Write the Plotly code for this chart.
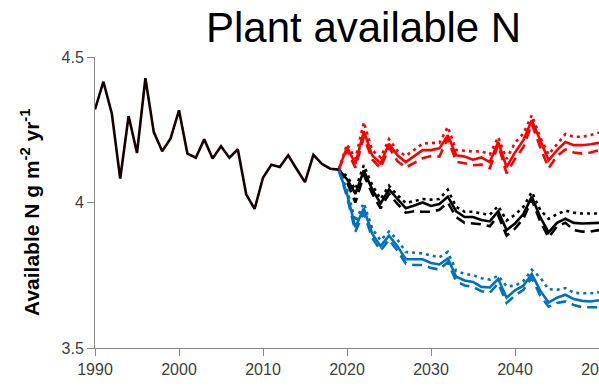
import plotly.graph_objects as go

hist_years = list(range(1990, 2020))
hist_vals = [4.32, 4.415, 4.306, 4.082, 4.297, 4.17, 4.427, 4.242, 4.176, 4.22,
             4.317, 4.168, 4.154, 4.217, 4.151, 4.193, 4.154, 4.183, 4.028, 3.978,
             4.085, 4.13, 4.122, 4.162, 4.115, 4.07, 4.164, 4.133, 4.116, 4.113]

scen_years = list(range(2019, 2051))

red_solid = [4.113, 4.19, 4.133, 4.245, 4.162, 4.135, 4.202, 4.162, 4.139, 4.16, 4.18, 4.18,
             4.186, 4.231, 4.162, 4.158, 4.147, 4.155, 4.139, 4.208, 4.122, 4.172,
             4.214, 4.283, 4.214, 4.145, 4.18, 4.208, 4.197, 4.197, 4.2, 4.205]
red_dot = [4.113, 4.2, 4.15, 4.276, 4.18, 4.155, 4.218, 4.178, 4.16, 4.18, 4.202, 4.205,
           4.205, 4.26, 4.18, 4.178, 4.175, 4.176, 4.165, 4.225, 4.15, 4.205,
           4.237, 4.30, 4.225, 4.165, 4.2, 4.235, 4.226, 4.226, 4.232, 4.24]
red_dash = [4.113, 4.18, 4.12, 4.225, 4.148, 4.118, 4.19, 4.142, 4.12, 4.135, 4.152, 4.16,
            4.158, 4.22, 4.14, 4.135, 4.128, 4.13, 4.118, 4.198, 4.10, 4.15,
            4.19, 4.27, 4.19, 4.118, 4.16, 4.182, 4.172, 4.168, 4.172, 4.18]

black_solid = [4.113, 4.08, 4.03, 4.11, 4.045, 3.997, 4.045, 4.012, 3.98, 3.99, 4.0, 3.988,
               3.995, 4.02, 3.97, 3.95, 3.95, 3.94, 3.935, 3.97, 3.905, 3.928,
               3.96, 4.02, 3.95, 3.897, 3.93, 3.944, 3.93, 3.928, 3.928, 3.93]
black_dot = [4.113, 4.09, 4.045, 4.128, 4.06, 4.012, 4.058, 4.025, 3.998, 4.005, 4.012, 4.01,
             4.012, 4.044, 3.985, 3.968, 3.968, 3.962, 3.958, 3.988, 3.938, 3.958,
             3.985, 4.036, 3.975, 3.944, 3.96, 3.972, 3.965, 3.962, 3.962, 3.962]
black_dash = [4.113, 4.07, 4.0, 4.095, 4.03, 3.98, 4.03, 3.995, 3.965, 3.97, 3.968, 3.968,
              3.975, 4.0, 3.95, 3.93, 3.928, 3.925, 3.918, 3.955, 3.886, 3.91,
              3.945, 4.01, 3.935, 3.88, 3.918, 3.93, 3.905, 3.9, 3.9, 3.905]

blue_solid = [4.113, 4.03, 3.915, 3.98, 3.893, 3.85, 3.886, 3.85, 3.805, 3.805, 3.805, 3.792,
              3.787, 3.808, 3.745, 3.732, 3.727, 3.71, 3.708, 3.737, 3.673, 3.698,
              3.714, 3.754, 3.697, 3.656, 3.673, 3.683, 3.668, 3.662, 3.66, 3.664]
blue_dot = [4.113, 4.045, 3.935, 3.998, 3.91, 3.87, 3.9, 3.872, 3.83, 3.828, 3.825, 3.818,
            3.812, 3.83, 3.765, 3.755, 3.75, 3.74, 3.735, 3.748, 3.712, 3.714,
            3.73, 3.769, 3.742, 3.702, 3.7, 3.706, 3.69, 3.688, 3.688, 3.692]
blue_dash = [4.113, 4.02, 3.9, 3.965, 3.878, 3.835, 3.872, 3.835, 3.79, 3.785, 3.785, 3.775,
             3.77, 3.795, 3.73, 3.715, 3.71, 3.695, 3.69, 3.722, 3.655, 3.68,
             3.7, 3.742, 3.68, 3.642, 3.655, 3.66, 3.648, 3.64, 3.64, 3.64]

x_ticks = [1990, 2000, 2010, 2020, 2030, 2040, 2050]
y_ticks = [3.5, 4, 4.5]
y_tick_text = ["3.5", "4", "4.5"]

RED = "#FF0000"
BLACK = "#000000"
BLUE = "#0070C0"
W = 2.6
DOT = "3px,4px"
DASH = "10px,6px"

fig = go.Figure()
series = [
    (red_dot, RED, DOT), (red_dash, RED, DASH), (red_solid, RED, "solid"),
    (black_dot, BLACK, DOT), (black_dash, BLACK, DASH), (black_solid, BLACK, "solid"),
    (blue_dot, BLUE, DOT), (blue_dash, BLUE, DASH), (blue_solid, BLUE, "solid"),
]
for vals, col, dash in series:
    fig.add_trace(go.Scatter(x=scen_years, y=vals, mode="lines",
                             line=dict(color=col, width=W, dash=dash),
                             showlegend=False, hoverinfo="skip"))

fig.add_trace(go.Scatter(x=hist_years, y=hist_vals, mode="lines",
                         line=dict(color="#140000", width=W),
                         showlegend=False, hoverinfo="skip"))

FONT = "Liberation Sans, Arial, sans-serif"
axis_font = dict(family=FONT, size=16, color="#404040")

L, R, T, B = 95, 0, 57, 42
PW = 599 - L - R
PH = 390 - T - B

fig.update_layout(
    width=599, height=390,
    margin=dict(l=L, r=R, t=T, b=B, autoexpand=False),
    paper_bgcolor="white", plot_bgcolor="white",
    xaxis=dict(range=[1990, 2050], tickvals=x_ticks, showgrid=False, zeroline=False,
               automargin=False, ticklabeloverflow="allow",
               showline=True, linecolor="#888888", linewidth=1,
               ticks="outside", ticklen=7, tickcolor="#888888",
               tickfont=axis_font),
    yaxis=dict(range=[3.5, 4.5], tickvals=y_ticks, ticktext=y_tick_text,
               showgrid=False, zeroline=False, automargin=False,
               showline=True, linecolor="#888888", linewidth=1,
               ticks="outside", ticklen=7, tickcolor="#888888",
               tickfont=axis_font),
    annotations=[
        dict(text="Plant available N",
             x=(363.5 - L) / PW, y=1 - (28 - T) / PH, xref="paper", yref="paper",
             showarrow=False, font=dict(family=FONT, size=42, color="#000000"),
             xanchor="center", yanchor="middle"),
        dict(text="<b>Available N g m<sup>-2</sup> yr<sup>-1</sup></b>",
             x=(30 - L) / PW, y=1 - (213 - T) / PH, xref="paper", yref="paper",
             showarrow=False, textangle=-90,
             font=dict(family=FONT, size=21, color="#000000"),
             xanchor="center", yanchor="middle"),
    ],
)

post = ("document.documentElement.style.overflow='hidden';"
        "document.body.style.margin='0';document.body.style.overflow='hidden';")
fig.write_html("out.html", post_script=post, config={"displayModeBar": False})
